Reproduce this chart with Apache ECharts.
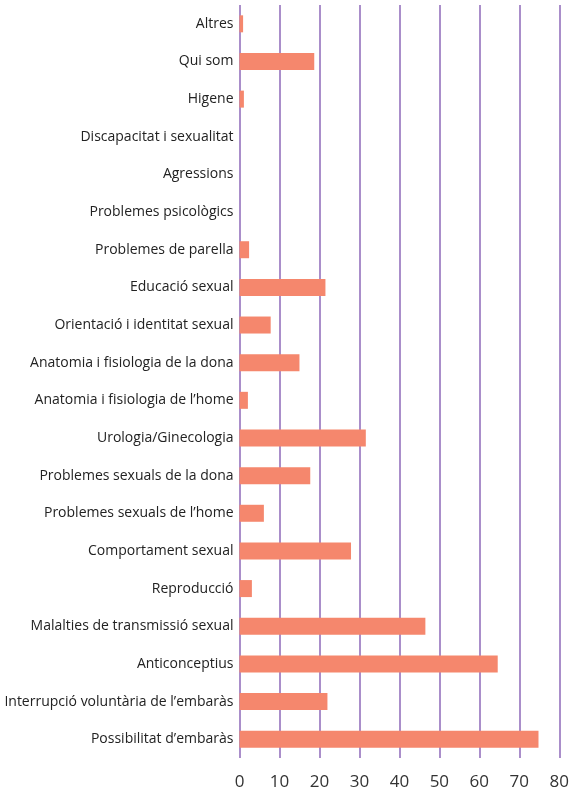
<!DOCTYPE html>
<html>
<head>
<meta charset="utf-8">
<script src="https://cdn.jsdelivr.net/npm/echarts@6/dist/echarts.min.js"></script>
<style>html,body{margin:0;padding:0;background:#fff}#c{width:572px;height:791px}</style>
</head>
<body>
<div id="c"></div>
<script>
const categories = [
  "Possibilitat d’embaràs",
  "Interrupció voluntària de l’embaràs",
  "Anticonceptius",
  "Malalties de transmissió sexual",
  "Reproducció",
  "Comportament sexual",
  "Problemes sexuals de l’home",
  "Problemes sexuals de la dona",
  "Urologia/Ginecologia",
  "Anatomia i fisiologia de l’home",
  "Anatomia i fisiologia de la dona",
  "Orientació i identitat sexual",
  "Educació sexual",
  "Problemes de parella",
  "Problemes psicològics",
  "Agressions",
  "Discapacitat i sexualitat",
  "Higene",
  "Qui som",
  "Altres"
];
const values = [74.8, 22.0, 64.6, 46.5, 3.1, 27.9, 6.1, 17.7, 31.6, 2.1, 15.0, 7.8, 21.5, 2.4, 0, 0, 0, 1.1, 18.7, 0.9];
const xTicks = [0, 10, 20, 30, 40, 50, 60, 70, 80];

const chart = echarts.init(document.getElementById('c'));
chart.setOption({
  animation: false,
  grid: {left: 239.5, right: 10, top: 5, bottom: 33, containLabel: false},
  xAxis: {
    type: 'value', min: xTicks[0], max: xTicks[xTicks.length-1], interval: 10,
    axisLine: {show: false}, axisTick: {show: false},
    splitLine: {show: true, lineStyle: {color: '#AA8ECA', width: 2}},
    axisLabel: {fontFamily: 'Open Sans', fontSize: 17, color: '#333', margin: 16}
  },
  yAxis: {
    type: 'category', data: categories,
    axisLine: {show: false}, axisTick: {show: false},
    axisLabel: {fontFamily: 'Open Sans', fontSize: 14, color: '#222', margin: 6}
  },
  series: [{
    type: 'bar', data: values, barWidth: 17,
    itemStyle: {color: '#F5876D'}
  }]
});
</script>
</body>
</html>
